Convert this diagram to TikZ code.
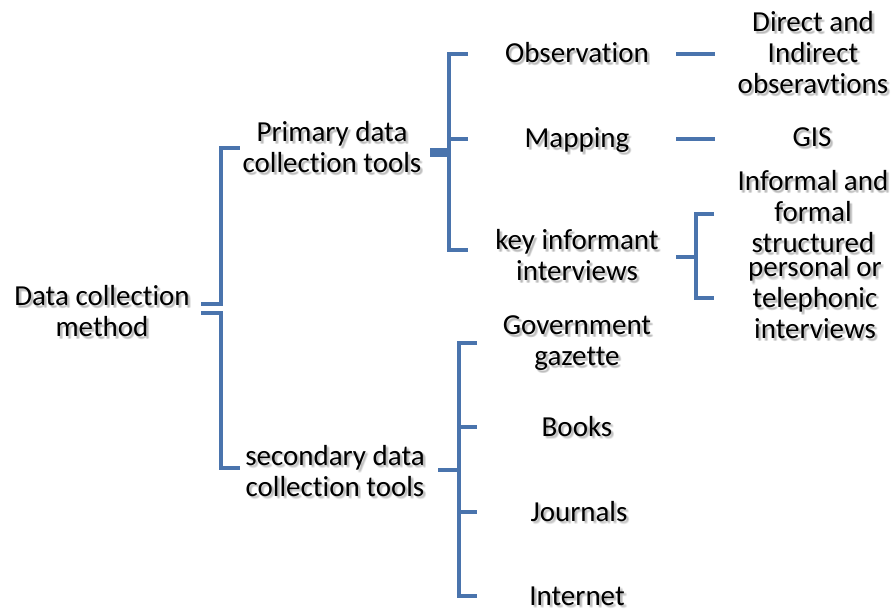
\documentclass[tikz,border=0pt]{standalone}
\usepackage{fontspec}
\setmainfont[Ligatures=NoCommon]{Carlito}
\usetikzlibrary{calc}
\definecolor{linkblue}{HTML}{4A74AD}
\definecolor{shadowgray}{HTML}{505050}
\tikzset{
  lbl/.style={font=\fontsize{29}{31}\selectfont, align=center, anchor=base, inner sep=0pt},
  link/.style={draw=linkblue, line width=4.4pt, line join=miter, line cap=butt},
}
% label with a soft drop shadow: name, position (baseline of the last line), text
\newcommand\shlabel[3]{%
  \foreach \dx/\dy [count=\k] in {1.5/1.5,2.5/2.5,2/3,3/2,2.5/1.5,1.5/2.5,3/3}{%
    \node[lbl, text=shadowgray, opacity=0.07] (#1-s\k) at ($(#2)+(\dx,\dy)$) {#3};
  }%
  \node[lbl] (#1) at (#2) {#3};%
}
\begin{document}
\begin{tikzpicture}[x=1pt, y=-1pt]
  \useasboundingbox (0,0) rectangle (894,609);

  % labels
  \shlabel{dcm}{102,337}{Data collection\\method}
  \shlabel{prim}{332,173}{Primary data\\collection tools}
  \shlabel{sec}{335,496}{secondary data\\collection tools}
  \shlabel{obs}{577,63}{Observation}
  \shlabel{map}{577,148}{Mapping}
  \shlabel{key}{577,281}{key informant\\interviews}
  \shlabel{gov}{577,366}{Government\\gazette}
  \shlabel{books}{577,436}{Books}
  \shlabel{jour}{579,521}{Journals}
  \shlabel{inet}{577,605}{Internet}
  \shlabel{direct}{813,94}{Direct and\\Indirect\\obseravtions}
  \shlabel{gis}{812,147}{GIS}
  \shlabel{inf}{813,253}{Informal and\\formal\\structured}
  \shlabel{pers}{815,339}{personal or\\telephonic\\interviews}

  % bracket key points
  \coordinate (dcmA) at (201,304);
  \coordinate (dcmB) at (201,313);
  \coordinate (primStub) at (430,150.5);
  \coordinate (primStubB) at (430,155);
  \coordinate (secStub) at (438,470);
  \coordinate (keyStub) at (676,257);

  % Data collection method -> primary / secondary
  \draw[link] (dcmA) -- (221,304) -- (221,148) -- (240,148);
  \draw[link] (dcmB) -- (221,313) -- (221,468) -- (240,468);

  % Primary data collection tools -> children
  \draw[link] (primStub) -- (449,150.5);
  \draw[link] (primStubB) -- (449,155);
  \draw[link] (468,54) -- (449,54) -- (449,250) -- (468,250);
  \draw[link] (449,139) -- (468,139);

  % Observation -> Direct and Indirect, Mapping -> GIS
  \draw[link] (676,54) -- (715,54);
  \draw[link] (676,139) -- (715,139);

  % key informant interviews -> two kinds
  \draw[link] (keyStub) -- (696,257);
  \draw[link] (714,214) -- (696,214) -- (696,298) -- (714,298);

  % secondary data collection tools -> children
  \draw[link] (secStub) -- (459,470);
  \draw[link] (477,343) -- (459,343) -- (459,596) -- (477,596);
  \draw[link] (459,427) -- (477,427);
  \draw[link] (459,512) -- (477,512);
\end{tikzpicture}
\end{document}
